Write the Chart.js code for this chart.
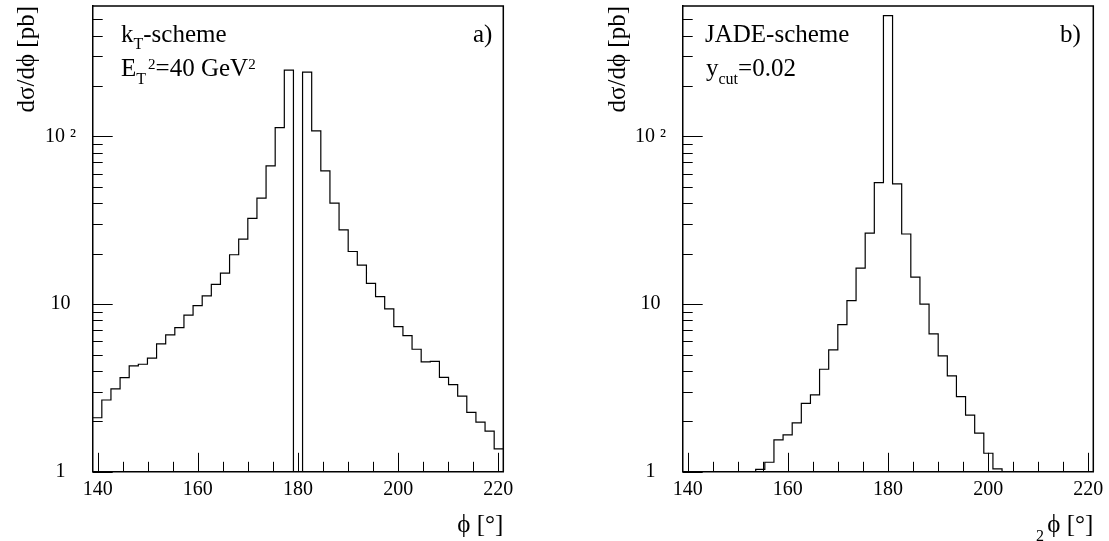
<!DOCTYPE html>
<html>
<head>
<meta charset="utf-8">
<script src="https://cdn.jsdelivr.net/npm/chart.js@4/dist/chart.umd.min.js"></script>
<style>
  html, body { margin:0; padding:0; background:#fff; overflow:hidden; width:1109px; height:541px; }
  canvas { position:absolute; top:0; }
  .ann { position:absolute; font-family:"Liberation Serif","DejaVu Serif",serif; font-size:25px; line-height:1; color:#000; white-space:nowrap; }
  .sub { position:relative; top:8px; font-size:16px; }
  .sup { position:relative; top:-7px; font-size:15px; }
</style>
</head>
<body>
<canvas id="cA" width="554" height="541" style="left:0px"></canvas>
<canvas id="cB" width="555" height="541" style="left:554px"></canvas>

<div class="ann" style="left:121px;top:21.4px">k<span class="sub" style="top:7px">T</span>-scheme</div>
<div class="ann" style="left:121px;top:54.8px">E<span class="sub">T</span><span class="sup" style="margin-left:2px">2</span>=40 GeV<span class="sup">2</span></div>
<div class="ann" style="left:473px;top:21.4px">a)</div>

<div class="ann" style="left:705px;top:21.4px">JADE-scheme</div>
<div class="ann" style="left:706px;top:54.8px">y<span class="sub">cut</span>=0.02</div>
<div class="ann" style="left:1060px;top:21.4px">b)</div>

<div class="ann" style="left:1036px;top:528.4px;font-size:16px">2</div>

<script>
// ---- histogram definition (phi in degrees) ----
const histMin = 139;
const histMax = 221;
const nBins = 45;

// panel a) kT-scheme, E_T^2 = 40 GeV^2  (dsigma/dphi in pb, one value per bin)
const ktValues = [2.10, 2.68, 3.12, 3.64, 4.28, 4.38, 4.76, 5.79, 6.55, 7.24,
                  8.59, 9.80, 11.2, 13.1, 15.3, 19.7, 24.4, 32.5, 42.9, 66.8,
                  113, 249, 0, 242, 108, 62.3, 40.0, 27.7, 20.6, 17.1,
                  13.3, 11.1, 9.36, 7.34, 6.49, 5.38, 4.52, 4.56, 3.66, 3.31,
                  2.83, 2.26, 1.98, 1.75, 1.37];

// panel b) JADE-scheme, y_cut = 0.02
const jadeValues = [0, 0, 0, 0, 0, 0, 0, 0, 1.035, 1.14,
                    1.55, 1.66, 1.96, 2.56, 2.88, 4.09, 5.33, 7.55, 10.5, 16.4,
                    26.5, 53.1, 526, 52.2, 26.2, 14.5, 10.0, 6.64, 4.91, 3.73,
                    2.81, 2.18, 1.70, 1.29, 1.04, 0, 0, 0, 0, 0,
                    0, 0, 0, 0, 0];

// axis ticks
const xTicks = [140,145,150,155,160,165,170,175,180,185,190,195,200,205,210,215,220];
const xLabeled = [140,160,180,200,220];
const yTicks = [1,2,3,4,5,6,7,8,9,10,20,30,40,50,60,70,80,90,100,200,300,400,500];
const yLabels = {1:'1', 10:'10', 100:'10 \u00B2'};
const yMin = 1, yMax = 600;

const xTitle = '\u03D5 [\u00B0]';
const yTitle = 'd\u03C3/d\u03D5 [pb]';

// ---- build step points from bins ----
function stepPoints(vals) {
  const w = (histMax - histMin) / nBins;
  const floor = 0.5; // empty bins sit below the visible range
  const pts = vals.map((v, i) => ({x: histMin + i * w, y: v > 0 ? v : floor}));
  const last = vals[vals.length - 1];
  pts.push({x: histMax, y: last > 0 ? last : floor});
  return pts;
}

const FONT = '"Liberation Serif","DejaVu Serif",serif';

const frameTicks = {
  id: 'frameTicks',
  afterDraw(chart) {
    const {ctx, chartArea: a, scales: {x, y}} = chart;
    ctx.save();
    ctx.strokeStyle = '#000';
    ctx.lineWidth = 1;
    ctx.beginPath();
    y.ticks.forEach(t => {
      const py = Math.round(y.getPixelForValue(t.value)) + 0.5;
      const lg = Math.log10(t.value);
      const major = Math.abs(lg - Math.round(lg)) < 1e-9;
      ctx.moveTo(a.left, py);
      ctx.lineTo(a.left + (major ? 20 : 10), py);
    });
    x.ticks.forEach(t => {
      const px = Math.round(x.getPixelForValue(t.value)) + 0.5;
      const major = xLabeled.includes(t.value);
      ctx.moveTo(px, a.bottom);
      ctx.lineTo(px, a.bottom - (major ? 19 : 10));
    });
    ctx.stroke();
    ctx.lineWidth = 1.5;
    ctx.beginPath();
    ctx.moveTo(a.left, a.top);
    ctx.lineTo(a.right, a.top);
    ctx.lineTo(a.right, a.bottom);
    ctx.stroke();
    ctx.restore();
  }
};

function makeChart(id, values, yWidth, padRight, yTitlePad) {
  return new Chart(document.getElementById(id), {
    type: 'line',
    data: {
      datasets: [{
        data: stepPoints(values),
        stepped: 'before',
        borderColor: '#000',
        borderWidth: 1.2,
        pointRadius: 0,
        fill: false,
        tension: 0
      }]
    },
    options: {
      responsive: false,
      animation: false,
      events: [],
      layout: { padding: { left: 0, right: padRight, top: 6, bottom: 0 } },
      plugins: { legend: { display: false }, tooltip: { enabled: false } },
      scales: {
        x: {
          type: 'linear',
          min: histMin,
          max: histMax,
          afterFit: s => { s.height = 541 - 471.8; s.paddingLeft = 0; s.paddingRight = 0; },
          afterBuildTicks: s => { s.ticks = xTicks.map(v => ({value: v})); },
          grid: { display: false, drawTicks: false },
          border: { display: true, color: '#000', width: 1.5 },
          ticks: {
            autoSkip: false, maxRotation: 0, padding: 6, color: '#000',
            font: { family: FONT, size: 20 },
            callback: v => xLabeled.includes(v) ? String(v) : ''
          },
          title: {
            display: true, text: xTitle, align: 'end', color: '#000',
            font: { family: FONT, size: 25 }, padding: { top: 0, bottom: 1 }
          }
        },
        y: {
          type: 'logarithmic',
          min: yMin,
          max: yMax,
          afterFit: s => { s.width = yWidth; s.paddingTop = 0; s.paddingBottom = 0; },
          afterBuildTicks: s => { s.ticks = yTicks.map(v => ({value: v})); },
          grid: { display: false, drawTicks: false },
          border: { display: true, color: '#000', width: 1.5 },
          ticks: {
            autoSkip: false, padding: 16.7, crossAlign: 'center', color: '#000',
            font: { family: FONT, size: 20 },
            callback: v => yLabels[v] !== undefined ? yLabels[v] : ''
          },
          title: {
            display: true, text: yTitle, align: 'end', color: '#000',
            font: { family: FONT, size: 25 }, padding: { top: yTitlePad, bottom: 0 }
          }
        }
      }
    },
    plugins: [frameTicks]
  });
}

makeChart('cA', ktValues, 92.7, 554 - 503.3, 12.5);
makeChart('cB', jadeValues, 682.7 - 554, 1109 - 1093.3, 49);
</script>
</body>
</html>
